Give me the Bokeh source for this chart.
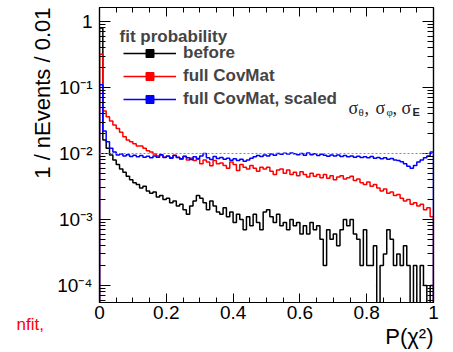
import numpy as np
from bokeh.plotting import figure
from bokeh.models import (Range1d, FixedTicker, LinearAxis, LogAxis, Span, Label, Title,
                          Scatter, Legend, LegendItem, ColumnDataSource)
from bokeh.embed import file_html
from bokeh.resources import INLINE

# ---------------- data ----------------
N_BINS = 100
X_MIN, X_MAX = 0.0, 1.0
Y_MIN, Y_MAX = 5.52e-5, 1.63

before = [
    0.8, 0.016, 0.012, 0.0095, 0.008, 0.0068, 0.0058, 0.0052, 0.0045, 0.0040,
    0.0036, 0.0034, 0.0030, 0.0032, 0.0027, 0.0025, 0.0026, 0.0022, 0.0023, 0.0020,
    0.0021, 0.0018, 0.0019, 0.0016, 0.0017, 0.0014, 0.0012, 0.0016, 0.0019, 0.0023,
    0.0021, 0.0018, 0.0014, 0.0019, 0.0016, 0.0013, 0.0012, 0.0015, 0.0011, 0.0013,
    0.0009, 0.0012, 0.0010, 0.0007, 0.0011, 0.0008, 0.0012, 0.0009, 0.0007, 0.0013,
    0.0014, 0.0011, 0.0009, 0.0012, 0.0008, 0.0009, 0.0007, 0.0010, 0.0008, 0.0009,
    0.0006, 0.0008, 0.0006, 0.0009, 0.0007, 0.0008, 0.0005, 0.0002, 0.0007, 0.0005,
    0.0006, 0.0004, 0.0007, 0.0010, 0.0008, 0.0010, 0.0006, 0.0005, 0.0002, 0.0007,
    0.0002, 0.0002, 0.0004, 0.0, 0.0002, 0.0003, 0.0007, 0.0005, 0.0002, 0.0003,
    0.0002, 0.0004, 0.0002, 0.0, 0.0002, 0.0, 0.0002, 0.0001, 0.0, 0.0001,
]
full_covmat = [
    0.32, 0.044, 0.036, 0.031, 0.027, 0.024, 0.021, 0.018, 0.016, 0.015,
    0.014, 0.013, 0.013, 0.012, 0.011, 0.0105, 0.0098, 0.0092, 0.0095, 0.0088,
    0.0092, 0.0086, 0.0094, 0.0088, 0.0082, 0.0090, 0.0080, 0.0085, 0.0078, 0.0082,
    0.0070, 0.0080, 0.0074, 0.0065, 0.0078, 0.0070, 0.0072, 0.0066, 0.0060, 0.0074,
    0.0068, 0.0055, 0.0068, 0.0062, 0.0058, 0.0066, 0.0060, 0.0054, 0.0062, 0.0058,
    0.0062, 0.0054, 0.0048, 0.0056, 0.0058, 0.0050, 0.0056, 0.0048, 0.0052, 0.0046,
    0.0053, 0.0048, 0.0044, 0.0050, 0.0045, 0.0048, 0.0043, 0.0048, 0.0042, 0.0046,
    0.0040, 0.0044, 0.0046, 0.0041, 0.0043, 0.0045, 0.0039, 0.0041, 0.0036, 0.0034,
    0.0037, 0.0032, 0.0034, 0.0030, 0.0027, 0.0029, 0.0025, 0.0026, 0.0023, 0.0024,
    0.0021, 0.0019, 0.0020, 0.0017, 0.0018, 0.0016, 0.0017, 0.0014, 0.0015, 0.0011,
]
full_covmat_scaled = [
    0.11, 0.022, 0.015, 0.012, 0.0105, 0.0095, 0.0098, 0.0092, 0.0096, 0.0090,
    0.0094, 0.0089, 0.0093, 0.0088, 0.0091, 0.0086, 0.0092, 0.0088, 0.0096, 0.0087,
    0.0091, 0.0085, 0.0093, 0.0087, 0.0083, 0.0091, 0.0086, 0.0081, 0.0089, 0.0084,
    0.0092, 0.0100, 0.0086, 0.0081, 0.0090, 0.0084, 0.0087, 0.0082, 0.0085, 0.0079,
    0.0083, 0.0078, 0.0082, 0.0076, 0.0080, 0.0085, 0.0089, 0.0093, 0.0090, 0.0095,
    0.0092, 0.0098, 0.0094, 0.0100, 0.0097, 0.0101, 0.0098, 0.0102, 0.0099, 0.0096,
    0.0100, 0.0094, 0.0102, 0.0096, 0.0099, 0.0093, 0.0097, 0.0094, 0.0091, 0.0095,
    0.0092, 0.0095, 0.0090, 0.0093, 0.0089, 0.0092, 0.0088, 0.0091, 0.0087, 0.0089,
    0.0086, 0.0090, 0.0085, 0.0087, 0.0083, 0.0086, 0.0082, 0.0084, 0.0080, 0.0078,
    0.0075, 0.0070, 0.0064, 0.0060, 0.0066, 0.0074, 0.0080, 0.0086, 0.0092, 0.0105,
]

series_labels = ["before", "full CovMat", "full CovMat, scaled"]
series_colors = ["#000000", "#ff0000", "#0000ff"]
REF_LEVEL = 0.01

x_major = [0.0, 0.2, 0.4, 0.6, 0.8, 1.0]
x_labels = ["0", "0.2", "0.4", "0.6", "0.8", "1"]
x_minor_step = 0.05
y_major = [1e-4, 1e-3, 1e-2, 1e-1, 1.0]
y_labels = ["10\u207b\u2074", "10\u207b\u00b3", "10\u207b\u00b2", "10\u207b\u00b9", "1"]

FONT = "Liberation Sans"
SERIF = "Liberation Serif"

# ---------------- figure ----------------
W, H = 453, 352
BL, BR, BT, BB = 96, 20, 7, 50
p = figure(width=W, height=H, x_range=Range1d(X_MIN, X_MAX),
           y_range=Range1d(Y_MIN, Y_MAX), y_axis_type="log",
           output_backend="svg", toolbar_location=None,
           min_border_left=BL, min_border_right=BR, min_border_top=BT,
           min_border_bottom=BB)
p.grid.visible = False
p.outline_line_color = "black"
p.outline_line_width = 1.2
p.background_fill_alpha = 0
p.border_fill_color = "white"

edges = np.linspace(X_MIN, X_MAX, N_BINS + 1)
centers = 0.5 * (edges[:-1] + edges[1:])
floor = Y_MIN * 0.3


def step_path(vals):
    v = np.maximum(np.asarray(vals, dtype=float), floor)
    xs = np.repeat(edges, 2)
    ys = np.concatenate([[floor], np.repeat(v, 2), [floor]])
    return xs, ys


items = []
for vals, lab, col in zip([before, full_covmat, full_covmat_scaled],
                          series_labels, series_colors):
    xs, ys = step_path(vals)
    r_line = p.line(xs, ys, line_color=col, line_width=1.5)
    # marker renderer only for the legend symbol: muted, and its muted glyph is invisible
    src = ColumnDataSource(dict(x=centers, y=np.maximum(np.asarray(vals, float), floor)))
    r_sq = p.scatter(x="x", y="y", source=src, marker="square", size=8,
                     fill_color=col, line_color=col)
    r_sq.muted_glyph = Scatter(x="x", y="y", marker="square", size=8,
                               fill_alpha=0, line_alpha=0)
    r_sq.muted = True
    items.append(LegendItem(label=lab, renderers=[r_line, r_sq], index=0))

p.add_layout(Span(location=REF_LEVEL, dimension="width", line_color="#b060ff",
                  line_width=1, line_dash="2 2"))

# ---------------- axes: ROOT style ticks inside, on all four sides ----------------
x_minor = [round(i * x_minor_step, 4) for i in range(int(round((X_MAX - X_MIN) / x_minor_step)) + 1)]
x_minor = [t for t in x_minor if t not in x_major]
y_minor = [m * d for d in [1e-5] + y_major for m in range(2, 10)]
y_minor = [t for t in y_minor if Y_MIN <= t <= Y_MAX]

xb = p.xaxis[0]
yl = p.yaxis[0]
xt = LinearAxis()
yr = LogAxis()
p.add_layout(xt, "above")
p.add_layout(yr, "right")

for ax in [xb, xt]:
    ax.ticker = FixedTicker(ticks=x_major, minor_ticks=x_minor)
    ax.major_tick_in = 9
    ax.minor_tick_in = 5
for ax in [yl, yr]:
    ax.ticker = FixedTicker(ticks=y_major, minor_ticks=y_minor)
    ax.major_tick_in = 11
    ax.minor_tick_in = 6
for ax in [xb, xt, yl, yr]:
    ax.major_tick_out = 0
    ax.minor_tick_out = 0
    ax.axis_line_color = "black"
    ax.axis_line_width = 1.2
    ax.major_tick_line_color = "black"
    ax.minor_tick_line_color = "black"
    ax.major_label_text_font = FONT
    ax.major_label_text_color = "black"
    ax.major_label_text_font_size = "19px"
xb.major_label_overrides = {t: s for t, s in zip(x_major, x_labels)}
yl.major_label_overrides = {t: s for t, s in zip(y_major, y_labels)}
xb.major_label_standoff = 3
yl.major_label_standoff = 7
xt.major_label_overrides = {t: "" for t in x_major}
yr.major_label_overrides = {t: "" for t in y_major}
for ax in [xt, yr]:
    ax.major_label_text_font_size = "0px"
    ax.major_label_standoff = 0

# ---------------- legend ----------------
legend = Legend(items=items, location=(24, 193), padding=0, margin=0, spacing=3,
                glyph_width=53, glyph_height=20, label_height=20, label_standoff=7,
                label_text_font=FONT, label_text_font_size="17px",
                label_text_font_style="bold", border_line_alpha=0,
                background_fill_alpha=0)
p.add_layout(legend)

p.add_layout(Label(x=20, y=266, x_units="screen", y_units="screen",
                   text="fit probability", text_font=FONT, text_font_size="17px",
                   text_font_style="bold", text_baseline="alphabetic"))

sig_parts = [
    ("\u03c3", 249, 195, SERIF, "18px", "normal"),
    ("\u03b8", 259, 191, SERIF, "11px", "normal"),
    (",", 265, 195, SERIF, "18px", "normal"),
    ("\u03c3", 276, 195, SERIF, "18px", "normal"),
    ("\u03c6", 287, 191, SERIF, "11px", "normal"),
    (",", 293, 195, SERIF, "18px", "normal"),
    ("\u03c3", 302, 195, SERIF, "18px", "normal"),
    ("E", 313, 191, FONT, "11px", "bold"),
]
for txt, sx, sy, fnt, fs, st in sig_parts:
    p.add_layout(Label(x=sx, y=sy, x_units="screen", y_units="screen", text=txt,
                       text_font=fnt, text_font_size=fs, text_font_style=st,
                       text_baseline="alphabetic", text_color="#222222"))

# ---------------- titles outside the frame ----------------
p.add_layout(Title(text="1 / nEvents / 0.01", align="right", standoff=0,
                   text_font=FONT, text_font_size="22px", text_font_style="normal",
                   text_color="black"), "left")
p.add_layout(Title(text="P(\u03c7\u00b2)", align="right", standoff=0,
                   text_font=FONT, text_font_size="22px", text_font_style="normal",
                   text_color="black"), "below")
p.add_layout(Label(x=16, y=-22, x_units="screen", y_units="screen",
                   text="nfit,", text_align="left", text_baseline="alphabetic",
                   text_font=FONT, text_font_size="17px", text_color="#ff0000"), "left")

open("out.html", "w").write(file_html(p, INLINE))
